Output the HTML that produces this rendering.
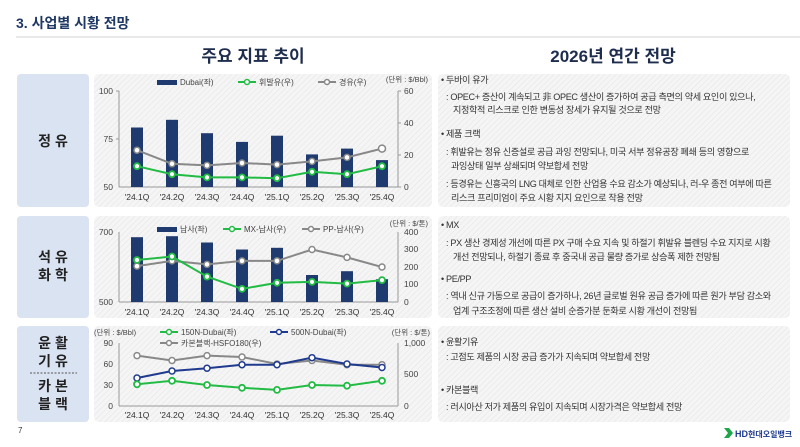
<!DOCTYPE html>
<html><head><meta charset="utf-8"><style>
html,body{margin:0;padding:0;background:#fff;}
body{width:800px;height:447px;overflow:hidden;position:relative;font-family:"Liberation Sans","Noto Sans CJK KR",sans-serif;}
svg{position:absolute;left:0;top:0;}
</style></head><body>
<svg width="800" height="447" viewBox="0 0 800 447" font-family="Liberation Sans, Noto Sans CJK KR, sans-serif">
<defs>
<pattern id="h" width="4" height="4" patternUnits="userSpaceOnUse" patternTransform="rotate(45)">
<rect width="4" height="4" fill="#f5f5f5"/><line x1="0" y1="0" x2="0" y2="4" stroke="#e6e6e6" stroke-width="1.2"/>
</pattern>
</defs>
<text x="16" y="28" font-size="14" font-weight="bold" fill="#1f3864">3. 사업별 시황 전망</text>
<line x1="16" y1="37" x2="800" y2="37" stroke="#d0d0d0" stroke-width="1"/>
<text x="253" y="62" font-size="17" font-weight="bold" fill="#1f2d4d" text-anchor="middle">주요 지표 추이</text>
<text x="613" y="62" font-size="17" font-weight="bold" fill="#1f2d4d" text-anchor="middle">2026년 연간 전망</text>

<rect x="17" y="74" width="72" height="133" rx="4" fill="#dae3f2"/>
<text x="53" y="146" font-size="14" font-weight="bold" fill="#222" text-anchor="middle">정 유</text>
<rect x="17" y="216" width="72" height="102" rx="4" fill="#dae3f2"/>
<text x="53" y="262" font-size="14" font-weight="bold" fill="#222" text-anchor="middle">석 유</text>
<text x="53" y="280" font-size="14" font-weight="bold" fill="#222" text-anchor="middle">화 학</text>
<rect x="17" y="326" width="72" height="96" rx="4" fill="#dae3f2"/>
<text x="53" y="348" font-size="14" font-weight="bold" fill="#222" text-anchor="middle">윤 활</text>
<text x="53" y="366" font-size="14" font-weight="bold" fill="#222" text-anchor="middle">기 유</text>
<line x1="30" y1="373" x2="77" y2="373" stroke="#555" stroke-dasharray="2,1.5"/>
<text x="53" y="391" font-size="14" font-weight="bold" fill="#222" text-anchor="middle">카 본</text>
<text x="53" y="409" font-size="14" font-weight="bold" fill="#222" text-anchor="middle">블 랙</text>
<text x="18" y="433" font-size="8" fill="#333">7</text>

<rect x="94" y="74" width="338" height="133" rx="5" fill="url(#h)"/>
<rect x="94" y="216" width="338" height="102" rx="5" fill="url(#h)"/>
<rect x="94" y="326" width="338" height="96" rx="5" fill="url(#h)"/>
<rect x="438" y="74" width="352" height="133" rx="5" fill="url(#h)"/>
<rect x="438" y="216" width="352" height="102" rx="5" fill="url(#h)"/>
<rect x="438" y="326" width="352" height="96" rx="5" fill="url(#h)"/>

<g font-size="8.5" fill="#444">
<line x1="119" y1="91" x2="119" y2="187" stroke="#999"/><line x1="119" y1="187" x2="398" y2="187" stroke="#999"/>
<line x1="398" y1="91" x2="398" y2="187" stroke="#999"/>
<line x1="116" y1="91" x2="119" y2="91" stroke="#999"/><line x1="116" y1="139" x2="119" y2="139" stroke="#999"/>
<line x1="398" y1="91" x2="401" y2="91" stroke="#999"/><line x1="398" y1="123" x2="401" y2="123" stroke="#999"/><line x1="398" y1="155" x2="401" y2="155" stroke="#999"/><line x1="398" y1="187" x2="401" y2="187" stroke="#999"/>
<text x="113" y="94" text-anchor="end">100</text><text x="113" y="142" text-anchor="end">75</text><text x="113" y="190" text-anchor="end">50</text>
<text x="404" y="94">60</text><text x="404" y="126">40</text><text x="404" y="158">20</text><text x="404" y="190">0</text>
<text x="428" y="82" text-anchor="end" font-size="7.5">(단위 : $/Bbl)</text>
<rect x="157" y="80" width="20" height="5" fill="#1f3a6e"/><text x="180" y="85" font-size="8">Dubai(좌)</text>
<line x1="238" y1="82" x2="256" y2="82" stroke="#22bb44" stroke-width="2"/><circle cx="247" cy="82" r="2.5" fill="#fff" stroke="#22bb44" stroke-width="1.5"/><text x="259" y="85" font-size="8">휘발유(우)</text>
<line x1="318" y1="82" x2="336" y2="82" stroke="#888" stroke-width="2"/><circle cx="327" cy="82" r="2.5" fill="#fff" stroke="#888" stroke-width="1.5"/><text x="339" y="85" font-size="8">경유(우)</text>
<g fill="#1f3a6e">
<rect x="131" y="127.5" width="12" height="59.5"/><rect x="166" y="119.8" width="12" height="67.2"/><rect x="201" y="133.2" width="12" height="53.8"/><rect x="236" y="141.9" width="12" height="45.1"/><rect x="271" y="135.7" width="12" height="51.3"/><rect x="306" y="154.4" width="12" height="32.6"/><rect x="341" y="148.6" width="12" height="38.4"/><rect x="376" y="160.1" width="12" height="26.9"/>
</g>
<polyline points="137,150.2 172,163.8 207,165.4 242,163 277,164.6 312,161.4 347,157.4 382,148.6" fill="none" stroke="#888" stroke-width="2"/>
<g fill="#fff" stroke="#888" stroke-width="1.5"><circle cx="137" cy="150.2" r="3"/><circle cx="172" cy="163.8" r="3"/><circle cx="207" cy="165.4" r="3"/><circle cx="242" cy="163" r="3"/><circle cx="277" cy="164.6" r="3"/><circle cx="312" cy="161.4" r="3"/><circle cx="347" cy="157.4" r="3"/><circle cx="382" cy="148.6" r="3.5"/></g>
<polyline points="137,166.2 172,174.2 207,177.4 242,177.4 277,178.2 312,171.8 347,174.2 382,166.2" fill="none" stroke="#22bb44" stroke-width="2"/>
<g fill="#fff" stroke="#22bb44" stroke-width="1.8"><circle cx="137" cy="166.2" r="3"/><circle cx="172" cy="174.2" r="3"/><circle cx="207" cy="177.4" r="3"/><circle cx="242" cy="177.4" r="3"/><circle cx="277" cy="178.2" r="3"/><circle cx="312" cy="171.8" r="3"/><circle cx="347" cy="174.2" r="3"/><circle cx="382" cy="166.2" r="3"/></g>
<g text-anchor="middle" fill="#333"><text x="137" y="200">'24.1Q</text><text x="172" y="200">'24.2Q</text><text x="207" y="200">'24.3Q</text><text x="242" y="200">'24.4Q</text><text x="277" y="200">'25.1Q</text><text x="312" y="200">'25.2Q</text><text x="347" y="200">'25.3Q</text><text x="382" y="200">'25.4Q</text></g>
</g>

<g font-size="8.5" fill="#444">
<line x1="119" y1="232" x2="119" y2="302" stroke="#999"/><line x1="119" y1="302" x2="398" y2="302" stroke="#999"/>
<line x1="398" y1="232" x2="398" y2="302" stroke="#999"/>
<text x="113" y="235" text-anchor="end">700</text><text x="113" y="305" text-anchor="end">500</text>
<text x="404" y="235">400</text><text x="404" y="252">300</text><text x="404" y="270">200</text><text x="404" y="287">100</text><text x="404" y="305">0</text>
<text x="428" y="226" text-anchor="end" font-size="7.5">(단위 : $/톤)</text>
<rect x="157" y="227" width="20" height="5" fill="#1f3a6e"/><text x="180" y="232" font-size="8">납사(좌)</text>
<line x1="223" y1="229" x2="241" y2="229" stroke="#22bb44" stroke-width="2"/><circle cx="232" cy="229" r="2.5" fill="#fff" stroke="#22bb44" stroke-width="1.5"/><text x="244" y="232" font-size="8">MX-납사(우)</text>
<line x1="302" y1="229" x2="320" y2="229" stroke="#888" stroke-width="2"/><circle cx="311" cy="229" r="2.5" fill="#fff" stroke="#888" stroke-width="1.5"/><text x="323" y="232" font-size="8">PP-납사(우)</text>
<g fill="#1f3a6e">
<rect x="131" y="237.2" width="12" height="64.8"/><rect x="166" y="236.2" width="12" height="65.8"/><rect x="201" y="242.5" width="12" height="59.5"/><rect x="236" y="249.5" width="12" height="52.5"/><rect x="271" y="247.8" width="12" height="54.2"/><rect x="306" y="275" width="12" height="27"/><rect x="341" y="271.2" width="12" height="30.8"/><rect x="376" y="279.2" width="12" height="22.8"/>
</g>
<polyline points="137,266.1 172,260.9 207,264.4 242,260.9 277,260.9 312,249.5 347,257.4 382,267" fill="none" stroke="#888" stroke-width="2"/>
<g fill="#fff" stroke="#888" stroke-width="1.5"><circle cx="137" cy="266.1" r="3"/><circle cx="172" cy="260.9" r="3"/><circle cx="207" cy="264.4" r="3"/><circle cx="242" cy="260.9" r="3"/><circle cx="277" cy="260.9" r="3"/><circle cx="312" cy="249.5" r="3"/><circle cx="347" cy="257.4" r="3"/><circle cx="382" cy="267" r="3"/></g>
<polyline points="137,260 172,256.5 207,276.6 242,288.9 277,282.8 312,281.9 347,283.6 382,280.1" fill="none" stroke="#22bb44" stroke-width="2"/>
<g fill="#fff" stroke="#22bb44" stroke-width="1.8"><circle cx="137" cy="260" r="3"/><circle cx="172" cy="256.5" r="3"/><circle cx="207" cy="276.6" r="3"/><circle cx="242" cy="288.9" r="3"/><circle cx="277" cy="282.8" r="3"/><circle cx="312" cy="281.9" r="3"/><circle cx="347" cy="283.6" r="3"/><circle cx="382" cy="280.1" r="3"/></g>
<g text-anchor="middle" fill="#333"><text x="137" y="315">'24.1Q</text><text x="172" y="315">'24.2Q</text><text x="207" y="315">'24.3Q</text><text x="242" y="315">'24.4Q</text><text x="277" y="315">'25.1Q</text><text x="312" y="315">'25.2Q</text><text x="347" y="315">'25.3Q</text><text x="382" y="315">'25.4Q</text></g>
</g>

<g font-size="8.5" fill="#444">
<line x1="119" y1="343" x2="119" y2="406" stroke="#999"/><line x1="119" y1="406" x2="398" y2="406" stroke="#999"/>
<line x1="398" y1="343" x2="398" y2="406" stroke="#999"/>
<text x="113" y="346" text-anchor="end">90</text><text x="113" y="367" text-anchor="end">60</text><text x="113" y="388" text-anchor="end">30</text><text x="113" y="409" text-anchor="end">0</text>
<text x="404" y="346">1,000</text><text x="404" y="377">500</text><text x="404" y="409">0</text>
<text x="94" y="335" font-size="7.5">(단위 : $/Bbl)</text>
<text x="430" y="335" text-anchor="end" font-size="7.5">(단위 : $/톤)</text>
<line x1="160" y1="332" x2="178" y2="332" stroke="#22bb44" stroke-width="2"/><circle cx="169" cy="332" r="2.5" fill="#fff" stroke="#22bb44" stroke-width="1.5"/><text x="181" y="335" font-size="8">150N-Dubai(좌)</text>
<line x1="270" y1="332" x2="288" y2="332" stroke="#1f3a8e" stroke-width="2"/><circle cx="279" cy="332" r="2.5" fill="#fff" stroke="#1f3a8e" stroke-width="1.5"/><text x="291" y="335" font-size="8">500N-Dubai(좌)</text>
<line x1="160" y1="343" x2="178" y2="343" stroke="#888" stroke-width="2"/><circle cx="169" cy="343" r="2.5" fill="#fff" stroke="#888" stroke-width="1.5"/><text x="181" y="346" font-size="8">카본블랙-HSFO180(우)</text>
<polyline points="137,355.6 172,360.5 207,355.6 242,357 277,364 312,360.5 347,364.7 382,364.7" fill="none" stroke="#888" stroke-width="2"/>
<g fill="#fff" stroke="#888" stroke-width="1.5"><circle cx="137" cy="355.6" r="3"/><circle cx="172" cy="360.5" r="3"/><circle cx="207" cy="355.6" r="3"/><circle cx="242" cy="357" r="3"/><circle cx="277" cy="364" r="3"/><circle cx="312" cy="360.5" r="3"/><circle cx="347" cy="364.7" r="3"/><circle cx="382" cy="364.7" r="3"/></g>
<polyline points="137,378 172,371 207,368.2 242,364.7 277,364.7 312,357.7 347,364 382,367.5" fill="none" stroke="#1f3a8e" stroke-width="2"/>
<g fill="#fff" stroke="#1f3a8e" stroke-width="1.5"><circle cx="137" cy="378" r="3"/><circle cx="172" cy="371" r="3"/><circle cx="207" cy="368.2" r="3"/><circle cx="242" cy="364.7" r="3"/><circle cx="277" cy="364.7" r="3"/><circle cx="312" cy="357.7" r="3"/><circle cx="347" cy="364" r="3"/><circle cx="382" cy="367.5" r="3"/></g>
<polyline points="137,384.3 172,380.8 207,385 242,387.8 277,389.9 312,385 347,385.7 382,380.8" fill="none" stroke="#22bb44" stroke-width="2"/>
<g fill="#fff" stroke="#22bb44" stroke-width="1.8"><circle cx="137" cy="384.3" r="3"/><circle cx="172" cy="380.8" r="3"/><circle cx="207" cy="385" r="3"/><circle cx="242" cy="387.8" r="3"/><circle cx="277" cy="389.9" r="3"/><circle cx="312" cy="385" r="3"/><circle cx="347" cy="385.7" r="3"/><circle cx="382" cy="380.8" r="3"/></g>
<g text-anchor="middle" fill="#333"><text x="137" y="418">'24.1Q</text><text x="172" y="418">'24.2Q</text><text x="207" y="418">'24.3Q</text><text x="242" y="418">'24.4Q</text><text x="277" y="418">'25.1Q</text><text x="312" y="418">'25.2Q</text><text x="347" y="418">'25.3Q</text><text x="382" y="418">'25.4Q</text></g>
</g>

<g font-size="9.1" fill="#333" letter-spacing="-0.35">
<text x="441" y="83">• 두바이 유가</text>
<text x="446" y="100">: OPEC+ 증산이 계속되고 非 OPEC 생산이 증가하여 공급 측면의 약세 요인이 있으나,</text>
<text x="453" y="113">지정학적 리스크로 인한 변동성 장세가 유지될 것으로 전망</text>
<text x="441" y="137">• 제품 크랙</text>
<text x="446" y="155">: 휘발유는 정유 신증설로 공급 과잉 전망되나, 미국 서부 정유공장 폐쇄 등의 영향으로</text>
<text x="451" y="169">과잉상태 일부 상쇄되며 약보합세 전망</text>
<text x="446" y="187">: 등경유는 신흥국의 LNG 대체로 인한 산업용 수요 감소가 예상되나, 러-우 종전 여부에 따른</text>
<text x="451" y="201">리스크 프리미엄이 주요 시황 지지 요인으로 작용 전망</text>

<text x="441" y="228">• MX</text>
<text x="446" y="246">: PX 생산 경제성 개선에 따른 PX 구매 수요 지속 및 하절기 휘발유 블렌딩 수요 지지로 시황</text>
<text x="453" y="260">개선 전망되나, 하절기 종료 후 중국내 공급 물량 증가로 상승폭 제한 전망됨</text>
<text x="441" y="282">• PE/PP</text>
<text x="446" y="299">: 역내 신규 가동으로 공급이 증가하나, 26년 글로벌 원유 공급 증가에 따른 원가 부담 감소와</text>
<text x="453" y="314">업계 구조조정에 따른 생산 설비 순증가분 둔화로 시황 개선이 전망됨</text>

<text x="441" y="345">• 윤활기유</text>
<text x="446" y="360">: 고점도 제품의 시장 공급 증가가 지속되며 약보합세 전망</text>
<text x="441" y="393">• 카본블랙</text>
<text x="446" y="410">: 러시아산 저가 제품의 유입이 지속되며 시장가격은 약보합세 전망</text>
</g>

<polygon points="724,428 729,428 733,433 729,438 724,438 728,433" fill="#1fa64a"/>
<text x="735" y="437" font-size="9" font-weight="bold" fill="#1f3a8e">HD<tspan font-size="8">현대오일뱅크</tspan></text>
</svg>
</body></html>
